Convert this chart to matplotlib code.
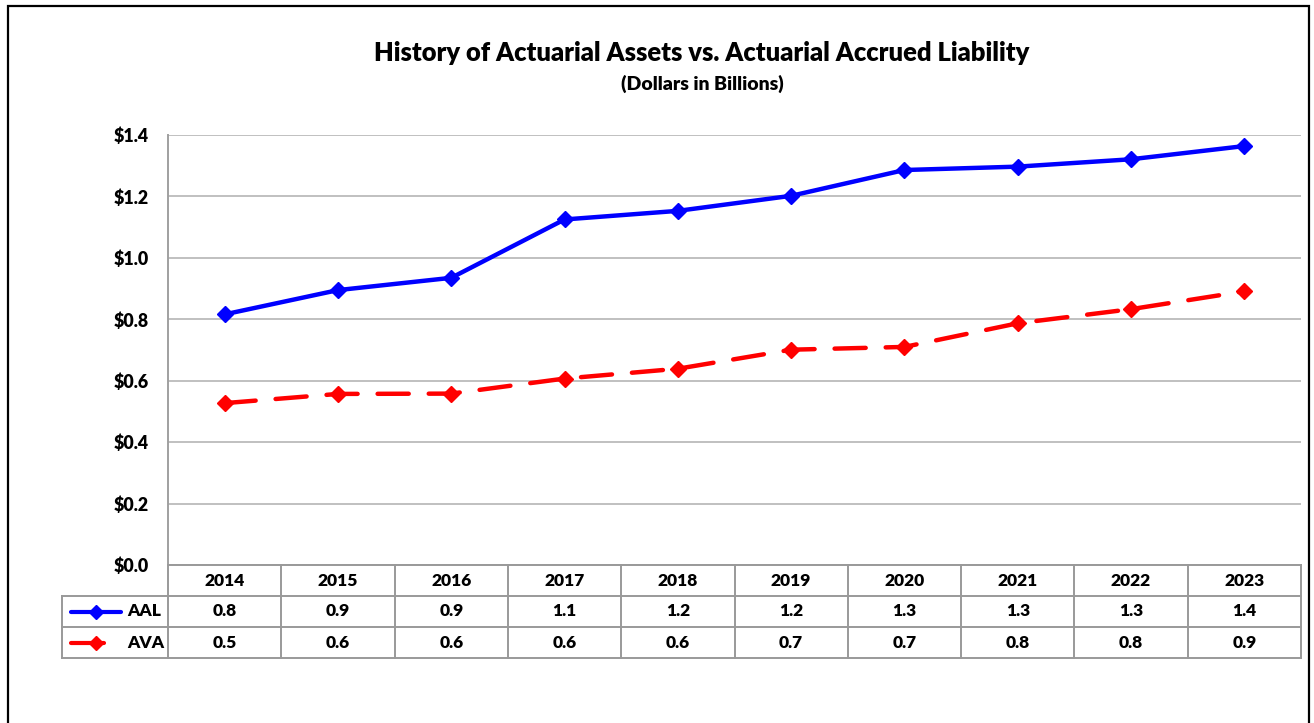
import numpy as np
import matplotlib
matplotlib.use("Agg")
import matplotlib.pyplot as plt
from matplotlib.patches import Rectangle
from matplotlib.lines import Line2D

# ---- data ----
years = ["2014", "2015", "2016", "2017", "2018", "2019", "2020", "2021", "2022", "2023"]
aal = [0.816, 0.895, 0.935, 1.125, 1.153, 1.202, 1.286, 1.297, 1.321, 1.364]
ava = [0.527, 0.557, 0.558, 0.607, 0.639, 0.701, 0.710, 0.787, 0.833, 0.891]
series_names = ["AAL", "AVA"]
y_ticks = [0.0, 0.2, 0.4, 0.6, 0.8, 1.0, 1.2, 1.4]
title = "History of Actuarial Assets vs. Actuarial Accrued Liability"
subtitle = "(Dollars in Billions)"

FONT = "Lato"
WEIGHT = "heavy"
plt.rcParams["font.family"] = [FONT, "DejaVu Sans"]
plt.rcParams["font.weight"] = WEIGHT

W, H = 1314, 723
fig = plt.figure(figsize=(W / 100, H / 100), dpi=100)
fig.patch.set_facecolor("white")

def fx(x):
    return x / W

def fy(y):
    return 1 - y / H

# outer border
fig.patches.append(Rectangle((fx(8), fy(735)), fx(1309) - fx(8), fy(6) - fy(735),
                             transform=fig.transFigure, fill=False, ec="black", lw=1.6))

# titles
fig.text(fx(702), fy(53), title, ha="center", va="center", fontsize=18.4, fontweight=WEIGHT)
fig.text(fx(702), fy(84), subtitle, ha="center", va="center", fontsize=14, fontweight=WEIGHT)

# main axes
L, R, T, B = 168, 1301, 135, 565
ax = fig.add_axes([fx(L), fy(B), (R - L) / W, (B - T) / H])
x = np.arange(len(years))
ax.set_xlim(-0.5, len(years) - 0.5)
ax.set_ylim(0, 1.4)
ax.set_yticks(y_ticks)
ax.set_yticklabels([f"${v:.1f}" for v in y_ticks], fontsize=12.8, fontweight=WEIGHT)
ax.set_xticks([])
ax.tick_params(axis="y", length=0, pad=14)
ax.yaxis.grid(True, color="#c0c0c0", lw=1.4)
ax.set_axisbelow(True)
for s in ["top", "right", "bottom"]:
    ax.spines[s].set_visible(False)
ax.spines["left"].set_color("#a0a0a0")
ax.spines["left"].set_linewidth(1.4)

dash = (0, (7, 4.5))
ax.plot(x, aal, color="#0000ff", lw=3.2, marker="D", ms=8, mec="#0000ff", mew=1,
        solid_capstyle="round", zorder=3, clip_on=False)
ax.plot(x, ava, color="#ff0000", lw=3.2, linestyle=dash, dash_capstyle="round",
        marker="D", ms=8, mec="#ff0000", mew=1, zorder=3, clip_on=False)

# data table
TB = 658
tax = fig.add_axes([fx(L), fy(TB), (R - L) / W, (TB - B) / H])
tax.set_xlim(-0.5, len(years) - 0.5)
tax.set_ylim(3, 0)
tax.axis("off")
col_w = (R - L) / len(years)

def dx(px):
    return -0.5 + (px - L) / col_w

tc = "#999999"
tlw = 1.4
xl = dx(62)
tax.plot([-0.5, len(years) - 0.5], [0, 0], color=tc, lw=tlw, clip_on=False)
for yy in [1, 2, 3]:
    tax.plot([xl, len(years) - 0.5], [yy, yy], color=tc, lw=tlw, clip_on=False,
             solid_capstyle="projecting")
for k in range(len(years) + 1):
    tax.plot([-0.5 + k, -0.5 + k], [0, 3], color=tc, lw=tlw, clip_on=False)
tax.plot([xl, xl], [1, 3], color=tc, lw=tlw, clip_on=False)

fs = 12.5
for i, yr in enumerate(years):
    tax.text(i, 0.5, yr, ha="center", va="center", fontsize=fs, fontweight=WEIGHT)
    tax.text(i, 1.5, f"{aal[i]:.1f}", ha="center", va="center", fontsize=fs, fontweight=WEIGHT)
    tax.text(i, 2.5, f"{ava[i]:.1f}", ha="center", va="center", fontsize=fs, fontweight=WEIGHT)

# legend keys in row labels
keys = [dict(color="#0000ff", lw=3, solid_capstyle="round", x1=121),
        dict(color="#ff0000", lw=3, solid_capstyle="round", x1=104)]
for r, (name, st) in enumerate(zip(series_names, keys)):
    yc = 1.5 + r
    x1 = st.pop("x1")
    tax.add_line(Line2D([dx(71), dx(x1)], [yc, yc], clip_on=False, **st))
    tax.plot([dx(96)], [yc], marker="D", ms=7, color=st["color"], clip_on=False)
    tax.text(dx(127), yc, name, ha="left", va="center", fontsize=fs, fontweight=WEIGHT)

fig.savefig("out.png", dpi=100, facecolor="white")
